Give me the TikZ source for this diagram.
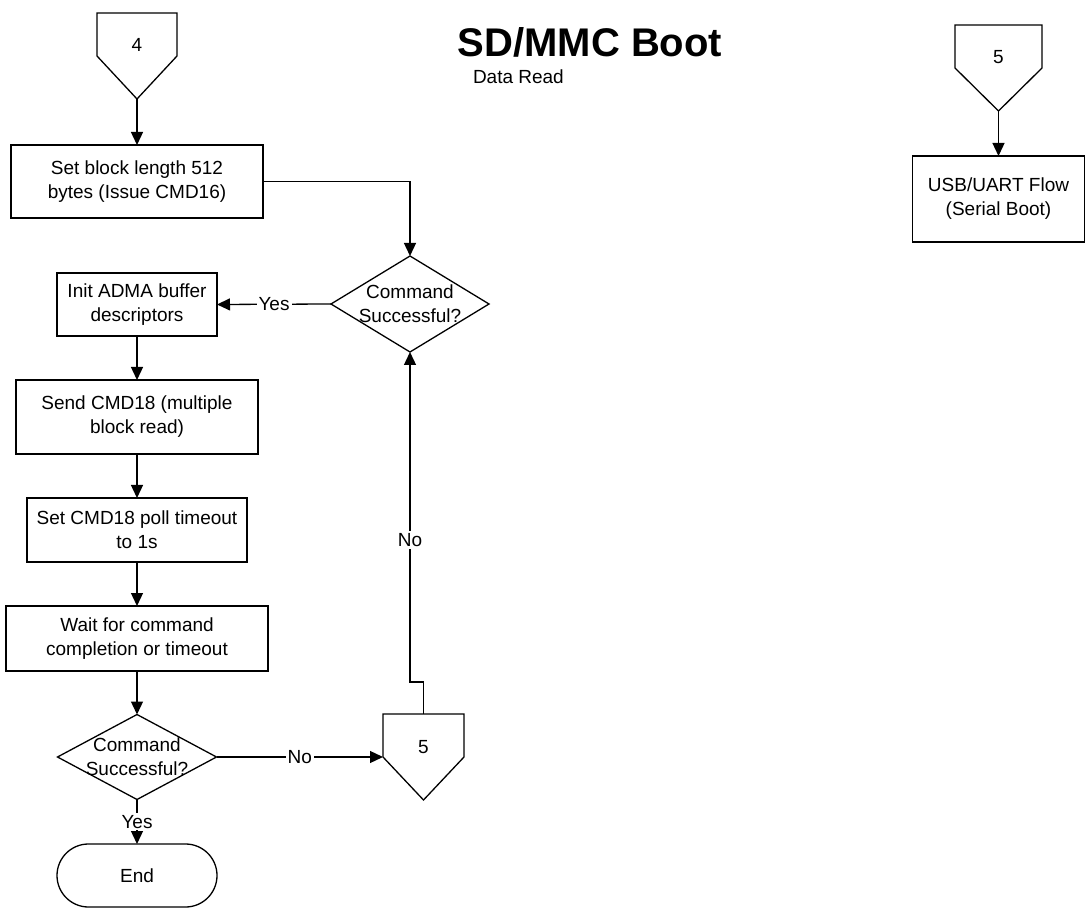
\documentclass[tikz,border=0pt]{standalone}
\usepackage{fontspec}
\setmainfont{Liberation Sans}
\usetikzlibrary{shapes.geometric,shapes.misc,arrows.meta}
\begin{document}
\begin{tikzpicture}[x=0.5pt,y=-0.5pt,line width=0.65pt,
  font=\fontsize{9.5}{12}\selectfont,
  every node/.style={outer sep=0pt},
  box/.style={draw,rectangle,align=center,inner sep=0pt},
  decision/.style={draw,diamond,inner sep=0pt},
  terminal/.style={draw,rounded rectangle,inner sep=0pt},
  offpage/.style={rectangle,inner sep=0pt,minimum width=#1,minimum height=43pt,text height=7pt,text depth=11pt},
  arr/.style={-{Triangle[length=6.5pt,width=6pt]}},
  lbl/.style={fill=white,inner sep=1pt}]
\useasboundingbox (0,0) rectangle (1087,914);

% title
\node[font=\bfseries\fontsize{20}{24}\selectfont] (title) at (590,42) {SD/MMC Boot};
\node[anchor=west,inner sep=0pt] (sub) at (473,77) {Data Read};

% off-page connectors
\node[offpage=40pt] (c4) at (137,56) {4};
\node[offpage=40.5pt] (c5b) at (423.5,757) {5};
\node[offpage=43.5pt] (c5r) at (998.5,68) {5};
\foreach \c in {c4,c5b,c5r}
  \draw[line join=miter] (\c.north west) -- (\c.north east) -- (\c.east) -- (\c.south) -- (\c.west) -- cycle;

% process boxes
\node[box,minimum width=126pt,minimum height=36.5pt] (b1) at (137,181.5) {Set block length 512\\bytes (Issue CMD16)};
\node[decision,minimum width=79pt,minimum height=48pt,label={[align=center]center:Command\\Successful?}] (d1) at (410,304) {};
\node[box,minimum width=80pt,minimum height=31.5pt] (b2) at (137,304.5) {Init ADMA buffer\\descriptors};
\node[box,minimum width=121pt,minimum height=37pt] (b3) at (137,417) {Send CMD18 (multiple\\block read)};
\node[box,minimum width=110pt,minimum height=32pt] (b4) at (137,530) {Set CMD18 poll timeout\\to 1s};
\node[box,minimum width=131pt,minimum height=32.5pt] (b5) at (137,638.5) {Wait for command\\completion or timeout};
\node[decision,minimum width=79.5pt,minimum height=42.5pt,label={[align=center]center:Command\\Successful?}] (d2) at (137,757) {};
\node[terminal,minimum width=80pt,minimum height=31.5pt] (end) at (137,875.5) {End};
\node[box,minimum width=86pt,minimum height=43pt] (usb) at (998.5,199) {USB/UART Flow\\(Serial Boot)};

% connectors
\draw[arr] (c4.south) -- (b1.north);
\draw[arr] (b1.east) -| (d1.north);
\draw[arr] (d1.west) -- node[lbl] {Yes} (b2.east);
\draw[arr] (b2) -- (b3);
\draw[arr] (b3) -- (b4);
\draw[arr] (b4) -- (b5);
\draw[arr] (b5) -- (d2);
\draw[arr] (d2.east) -- node[lbl] {No} (c5b.west);
\draw[arr] (d2.south) -- node[lbl] {Yes} (end.north);
\draw[arr] (c5b.north) -- ++(0,-32) -| node[lbl,pos=0.715] {No} (d1.south);
\draw[arr] (c5r.south) -- (usb.north);
\end{tikzpicture}
\end{document}
